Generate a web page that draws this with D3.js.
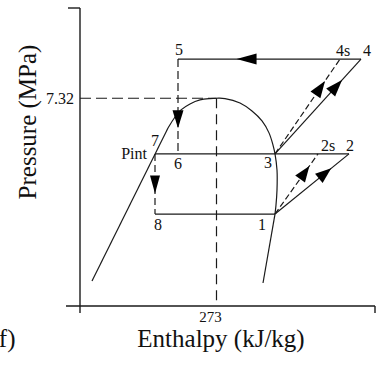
<!DOCTYPE html>
<html>
<head>
<meta charset="utf-8">
<script src="https://cdn.jsdelivr.net/npm/d3@7"></script>
<style>
  html, body { margin: 0; padding: 0; background: #fff; }
  svg { display: block; }
  text { font-family: "Liberation Serif", "Times New Roman", serif; fill: #111; }
</style>
</head>
<body>
<svg id="chart" width="377" height="370"></svg>
<script>
// Axis ranges (enthalpy in kJ/kg, pressure in MPa)
const enthalpyDomain = [0, 590];
const pressureDomain = [0, 10.5];

// Critical point
const criticalH = 273;
const criticalP = 7.32;
const xTickValues = [273];
const yTickValues = [7.32];

// Cycle state points
const stateNames    = ["1", "2", "2s", "3", "4", "4s", "5", "6", "7", "8"];
const stateEnthalpy = [390, 538, 476, 390, 562, 520, 196, 196, 150, 150];
const statePressure = [3.24, 5.36, 5.36, 5.36, 8.70, 8.70, 8.70, 5.36, 5.36, 3.24];

// Saturated liquid line (straight part)
const liquidH = [24, 176];
const liquidP = [0.88, 6.27];

// Saturation dome from the liquid side over the critical point to state 1
const domeH = [176, 190, 202, 220, 240, 260, 273, 290, 320, 344, 364, 378, 386, 390, 394, 394, 392, 390];
const domeP = [6.27, 6.66, 6.91, 7.12, 7.26, 7.31, 7.32, 7.31, 7.15, 6.87, 6.52, 6.10, 5.67, 5.36, 4.79, 4.09, 3.56, 3.24];

// Saturated vapour line below state 1
const vaporH = [390, 366];
const vaporP = [3.24, 0.81];

const svg = d3.select("#chart");
const x = d3.scaleLinear().domain(enthalpyDomain).range([80, 375]);
const y = d3.scaleLinear().domain(pressureDomain).range([306, 8]);

const ink = "#1a1a1a";
const idx = name => stateNames.indexOf(name);
const pt = name => [x(stateEnthalpy[idx(name)]), y(statePressure[idx(name)])];

// Axes
const axes = svg.append("g").attr("stroke", ink).attr("stroke-width", 1.4);
axes.append("line").attr("x1", x(0)).attr("x2", x(0)).attr("y1", y(pressureDomain[1])).attr("y2", y(0) + 7);
axes.append("line").attr("x1", x(0) - 12).attr("x2", x(0)).attr("y1", y(pressureDomain[1])).attr("y2", y(pressureDomain[1]));
axes.append("line").attr("x1", x(0) - 14).attr("x2", x(enthalpyDomain[1])).attr("y1", y(0)).attr("y2", y(0));
axes.append("line").attr("x1", x(enthalpyDomain[1])).attr("x2", x(enthalpyDomain[1])).attr("y1", y(0)).attr("y2", y(0) + 7);

// Critical point guides
const guide = svg.append("g").attr("stroke", ink).attr("stroke-width", 1.2).attr("fill", "none");
guide.append("line").attr("stroke-dasharray", "11,5")
  .attr("x1", x(0)).attr("x2", x(criticalH)).attr("y1", y(criticalP)).attr("y2", y(criticalP));
guide.append("line").attr("stroke-dasharray", "10,6")
  .attr("x1", x(criticalH)).attr("x2", x(criticalH)).attr("y1", y(criticalP)).attr("y2", y(0));

// Tick labels
svg.selectAll(".ytick").data(yTickValues).join("text")
  .attr("x", x(0) - 6).attr("y", d => y(d) + 6)
  .attr("text-anchor", "end").attr("font-size", 16).text(d => d.toFixed(2));
svg.selectAll(".xtick").data(xTickValues).join("text")
  .attr("x", d => x(d) - 6).attr("y", y(0) + 16)
  .attr("text-anchor", "middle").attr("font-size", 15).text(d => d);

// Saturation curves
const lineGen = d3.line().x(d => x(d[0])).y(d => y(d[1]));
const curveGen = d3.line().x(d => x(d[0])).y(d => y(d[1])).curve(d3.curveCatmullRom.alpha(0.5));
const sat = svg.append("g").attr("stroke", ink).attr("stroke-width", 1.2).attr("fill", "none");
sat.append("path").attr("d", lineGen(d3.zip(liquidH, liquidP)));
sat.append("path").attr("d", curveGen(d3.zip(domeH, domeP)));
sat.append("path").attr("d", lineGen(d3.zip(vaporH, vaporP)));

// Cycle process lines
const segments = [
  ["5", "4", null], ["7", "2", null], ["8", "1", null],
  ["5", "6", "8,4"], ["7", "8", "7,4"],
  ["1", "2s", "6,3"], ["1", "2", null],
  ["3", "4s", "6,3"], ["3", "4", null]
];
const cyc = svg.append("g").attr("stroke", ink).attr("stroke-width", 1.2).attr("fill", "none");
segments.forEach(([a, b, dash]) => {
  const p = pt(a), q = pt(b);
  cyc.append("line").attr("x1", p[0]).attr("y1", p[1]).attr("x2", q[0]).attr("y2", q[1])
    .attr("stroke-dasharray", dash);
});

// Flow direction arrowheads: [from, to, fraction along the segment for the tip, length, half-width]
const arrows = [
  ["4", "5", 0.68, 20, 5.5],
  ["5", "6", 0.73, 18, 5.5],
  ["7", "8", 0.66, 18, 5],
  ["3", "4s", 0.77, 17, 6],
  ["3", "4", 0.78, 17, 6],
  ["1", "2s", 0.80, 16, 6],
  ["1", "2", 0.76, 16, 6]
];
arrows.forEach(([a, b, t, len, hw]) => {
  const p = pt(a), q = pt(b);
  const dx = q[0] - p[0], dy = q[1] - p[1];
  const L = Math.hypot(dx, dy);
  const ux = dx / L, uy = dy / L;
  const tip = [p[0] + dx * t, p[1] + dy * t];
  const base = [tip[0] - ux * len, tip[1] - uy * len];
  const c1 = [base[0] - uy * hw, base[1] + ux * hw];
  const c2 = [base[0] + uy * hw, base[1] - ux * hw];
  svg.append("path").attr("fill", "#000")
    .attr("d", `M${tip[0]},${tip[1]}L${c1[0]},${c1[1]}L${c2[0]},${c2[1]}Z`);
});

// State label offsets from each point
const labelOffsets = {
  "1": [-13, 16], "2": [1, -3], "2s": [10, -3], "3": [-7, 14],
  "4": [6, -3], "4s": [3, -3], "5": [1, -4], "6": [0, 15],
  "7": [0, -8], "8": [3, 16]
};
svg.selectAll(".state").data(stateNames).join("text")
  .attr("x", d => pt(d)[0] + labelOffsets[d][0])
  .attr("y", d => pt(d)[1] + labelOffsets[d][1])
  .attr("text-anchor", "middle").attr("font-size", 16).text(d => d);
svg.append("text")
  .attr("x", pt("7")[0] - 8).attr("y", pt("7")[1] + 5)
  .attr("text-anchor", "end").attr("font-size", 16).text("Pint");

// Axis titles
svg.append("text")
  .attr("transform", "translate(36,122) rotate(-90)")
  .attr("text-anchor", "middle").attr("font-size", 25).text("Pressure (MPa)");
svg.append("text")
  .attr("x", 221).attr("y", 347)
  .attr("text-anchor", "middle").attr("font-size", 25).text("Enthalpy (kJ/kg)");
svg.append("text")
  .attr("x", 15.5).attr("y", 347)
  .attr("text-anchor", "end").attr("font-size", 25).text("(f)");
</script>
</body>
</html>
